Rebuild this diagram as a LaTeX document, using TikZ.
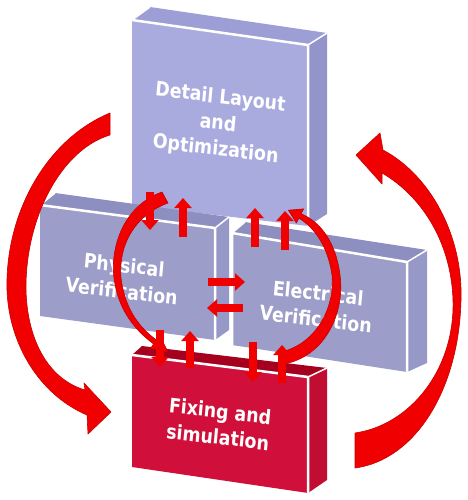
\documentclass[tikz,border=0pt]{standalone}
\usepackage{fontspec}
\setmainfont{DejaVu Sans}
\usetikzlibrary{arrows.meta}
\definecolor{lavF}{HTML}{A9ABDF}
\definecolor{lavT}{HTML}{9C9ED5}
\definecolor{lavR}{HTML}{9294CA}
\definecolor{midF}{HTML}{9C9DC9}
\definecolor{midT}{HTML}{8D8FC1}
\definecolor{midR}{HTML}{9698C8}
\definecolor{redF}{HTML}{D0103A}
\definecolor{redT}{HTML}{A5001D}
\definecolor{redR}{HTML}{C20D32}
\definecolor{arr}{HTML}{F00000}
\definecolor{arrD}{HTML}{C80000}
\begin{document}
\begin{tikzpicture}[x=1pt,y=-1pt,
  edge/.style={white,line width=2.5pt,line join=round},
  thinedge/.style={white,line width=1.5pt},
  blk/.style={line width=8pt, draw=arr, -{Triangle[width=17pt,length=10pt]}},
  bigarr/.style={fill=arr, draw=arrD, line width=0.6pt, line join=round},
  lbl/.style={text=white, font=\fontsize{20}{26}\selectfont\bfseries, align=center, xscale=0.87, rotate=-6}]
\useasboundingbox[fill=white] (0,0) rectangle (467,500);
% ---- top box
\fill[lavR] (308,45) -- (327,33) -- (327,214) -- (308,226) -- cycle;
\fill[lavT] (132,20) -- (150,7) -- (327,33) -- (308,45) -- cycle;
\fill[lavF] (132,20) -- (308,45) -- (308,226) -- (132,205) -- cycle;
\draw[edge] (132,20) -- (308,45) -- (308,226);
\draw[thinedge] (308,45) -- (327,33);
\draw[thinedge] (132,20) -- (150,7);
% ---- middle left box
\fill[midR] (215,228) -- (229,217) -- (229,330) -- (215,340) -- cycle;
\fill[midT] (40,205) -- (55,193) -- (229,217) -- (215,228) -- cycle;
\fill[midF] (40,205) -- (215,228) -- (215,340) -- (40,316) -- cycle;
\draw[edge] (40,205) -- (215,228) -- (215,340);
\draw[thinedge] (215,228) -- (229,217);
\draw[thinedge] (40,205) -- (55,193);
% ---- middle right box
\fill[midR] (407,262) -- (427,250) -- (427,363) -- (407,372) -- cycle;
\fill[midT] (232,233) -- (245,222) -- (427,250) -- (407,262) -- cycle;
\fill[midF] (232,233) -- (407,262) -- (407,372) -- (232,345) -- cycle;
\draw[edge] (232,345) -- (232,233) -- (407,262) -- (407,372);
\draw[thinedge] (407,262) -- (427,250);
\draw[thinedge] (232,233) -- (245,222);
% ---- bottom box
\fill[redR] (308,377) -- (327,368) -- (327,480) -- (308,493) -- cycle;
\fill[redT] (132,355) -- (142,346) -- (327,368) -- (308,377) -- cycle;
\fill[redF] (132,355) -- (308,377) -- (308,493) -- (132,467) -- cycle;
\draw[edge] (132,355) -- (308,377) -- (308,493);
\draw[thinedge] (308,377) -- (327,368);
% ---- labels
\node[lbl] (dl) at (218,124) {Detail Layout\\and\\Optimization};
\node[lbl] (pv) at (123,278) {Physical\\Verification};
\node[lbl] (ev) at (317,306) {Electrical\\Verification};
\node[lbl] (fs) at (219,424) {Fixing and\\simulation};
% ---- big left arrow
\path[bigarr] (110,113) .. controls (45,140) and (5,215) .. (7,290)
  .. controls (9,345) and (40,395) .. (87,415)
  -- (88,434) -- (111,412) -- (84,383) -- (85,390)
  .. controls (45,378) and (27,335) .. (26,290)
  .. controls (25,220) and (60,150) .. (110,135) -- cycle;
% ---- big right arrow
\path[bigarr] (355,433) .. controls (410,425) and (455,370) .. (453,300)
  .. controls (451,240) and (420,195) .. (382,173)
  -- (382,184) -- (356,155) -- (380,133) -- (383,150)
  .. controls (430,175) and (463,235) .. (461,300)
  .. controls (459,390) and (415,460) .. (355,468) -- cycle;
% ---- inner left curved arrow
\path[bigarr] (162,192) .. controls (125,205) and (110,245) .. (114,278)
  .. controls (118,310) and (135,330) .. (153.6,344)
  -- (150.4,348.6) -- (168,352) -- (159.6,335.4) -- (156.4,340)
  .. controls (140,328) and (125,310) .. (121,278)
  .. controls (118,245) and (135,215) .. (168,203) -- cycle;
% ---- inner right curved arrow
\path[bigarr] (284,364) .. controls (326,356) and (345,312) .. (340,275)
  .. controls (336,243) and (321,222) .. (301.1,213.8)
  -- (303.6,208.9) -- (288.4,210.2) -- (296.4,223.1) -- (298.9,218.2)
  .. controls (315,228) and (328,247) .. (332,275)
  .. controls (335,308) and (316,344) .. (281,352) -- cycle;
% ---- small block arrows
\coordinate (a1s) at (150,192); \coordinate (a1e) at (150,230);
\coordinate (a2s) at (183,237); \coordinate (a2e) at (183,198);
\coordinate (a3s) at (255,247); \coordinate (a3e) at (255,208);
\coordinate (a4s) at (285,250); \coordinate (a4e) at (285,211);
\coordinate (a5s) at (208,282); \coordinate (a5e) at (245,282);
\coordinate (a6s) at (243,308); \coordinate (a6e) at (207,308);
\coordinate (a7s) at (160,330); \coordinate (a7e) at (160,367);
\coordinate (a8s) at (190,368); \coordinate (a8e) at (190,331);
\coordinate (a9s) at (253,342); \coordinate (a9e) at (253,382);
\coordinate (a10s) at (282,383); \coordinate (a10e) at (282,345);
\foreach \i in {1,...,10} {\draw[blk] (a\i s) -- (a\i e);}
\end{tikzpicture}
\end{document}
